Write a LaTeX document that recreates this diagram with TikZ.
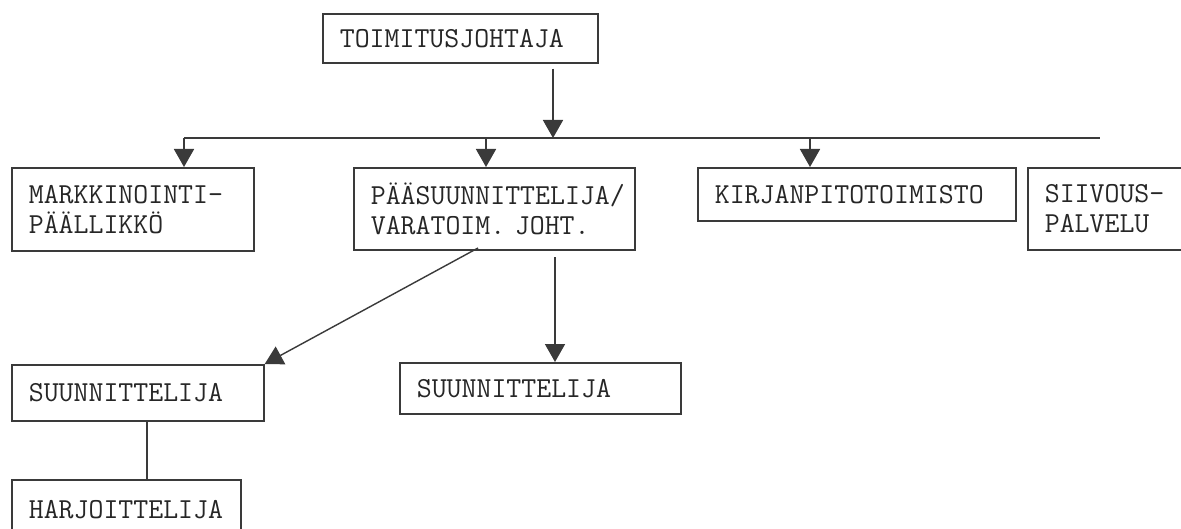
\documentclass[tikz,border=0pt]{standalone}
\usepackage{fontspec}
\usetikzlibrary{arrows.meta}
\definecolor{ink}{HTML}{262626}
\definecolor{linec}{HTML}{3A3A3A}
\hyphenpenalty=10000
\begin{document}
\begin{tikzpicture}[x=0.5pt,y=-0.5pt,
  box/.style={draw=linec, line width=0.85pt, anchor=north west, inner xsep=8.5pt, inner ysep=0pt,
    font=\ttfamily\fontsize{14.5}{15}\selectfont, text=ink, align=left},
  conn/.style={draw=linec, line width=0.85pt},
  arr/.style={conn, -{Triangle[width=10pt,length=9pt]}}]
\fill[white] (0,0) rectangle (1181,529);
\useasboundingbox (0,0) rectangle (1181,529);
\clip (0,0) rectangle (1181,529);
% boxes
\node[box, text width=120.5pt, minimum height=24.5pt] (T) at (322,13) {\mbox{TOIMITUSJOHTAJA}};
\node[box, text width=104pt, minimum height=41.5pt] (M) at (11,167) {\mbox{MARKKINOINTI-}\\\mbox{PÄÄLLIKKÖ}};
\node[box, text width=123.5pt, minimum height=41pt] (P) at (353,167) {\mbox{PÄÄSUUNNITTELIJA/}\\\mbox{VARATOIM. JOHT.}};
\node[box, text width=142pt, minimum height=26.5pt] (K) at (697,167) {\mbox{KIRJANPITOTOIMISTO}};
\node[box, text width=68pt, minimum height=41pt] (SV) at (1027,167) {\mbox{SIIVOUS-}\\\mbox{PALVELU}};
\node[box, text width=109pt, minimum height=28pt] (S1) at (11,364) {\mbox{SUUNNITTELIJA}};
\node[box, text width=123.5pt, minimum height=25.5pt] (S2) at (399,362) {\mbox{SUUNNITTELIJA}};
\node[box, text width=97.5pt, minimum height=30pt] (H) at (11,479) {\mbox{HARJOITTELIJA}};
% connector points
\coordinate (j) at (553,138);
\coordinate (bl) at (184,138);
\coordinate (br) at (1100,138);
\coordinate (bp) at (486,138);
\coordinate (bk) at (810,138);
\coordinate (ds) at (478,248);
\coordinate (vs) at (555,257);
\coordinate (hs) at (147,420);
% connectors
\draw[arr, shorten <=2.5pt] (T.south -| j) -- (j);
\draw[conn] (bl) -- (br);
\draw[arr] (bl) -- (bl |- M.north);
\draw[arr] (bp) -- (bp |- P.north);
\draw[arr] (bk) -- (bk |- K.north);
\draw[arr, line width=0.7pt] (ds) -- (S1.north east);
\draw[arr] (vs) -- (vs |- S2.north);
\draw[conn] (S1.south -| hs) -- (hs |- H.north);
\end{tikzpicture}
\end{document}
